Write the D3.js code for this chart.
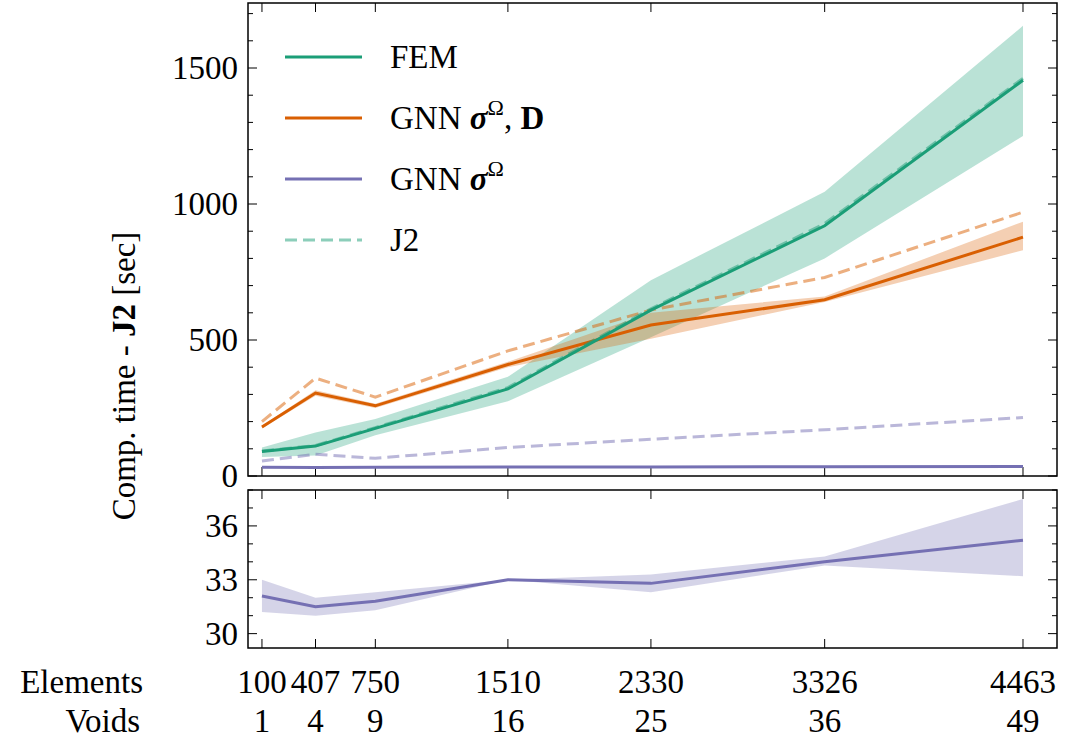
<!DOCTYPE html>
<html><head><meta charset="utf-8">
<script src="https://cdn.jsdelivr.net/npm/d3@7"></script>
<style>body{margin:0;background:#fff}text{font-family:"Liberation Serif","DejaVu Serif",serif}</style>
</head><body>
<svg id="c" width="1067" height="748"></svg>
<script>
const elements = [100, 407, 750, 1510, 2330, 3326, 4463];
const voids = [1, 4, 9, 16, 25, 36, 49];
const femMean = [90, 110, 175, 320, 610, 920, 1455];
const femLo = [70, 75, 150, 275, 510, 800, 1250];
const femHi = [105, 160, 210, 365, 720, 1045, 1655];
const femJ2 = [92, 112, 178, 325, 615, 928, 1462];
const gnnDMean = [180, 305, 258, 410, 555, 648, 878];
const gnnDLo = [175, 295, 250, 400, 505, 640, 830];
const gnnDHi = [185, 315, 266, 420, 600, 660, 935];
const gnnDJ2 = [200, 360, 290, 460, 610, 730, 970];
const gnnSMean = [32.1, 31.5, 31.8, 33.0, 32.8, 34.0, 35.2];
const gnnSLo = [31.2, 31.0, 31.3, 33.0, 32.3, 33.8, 33.2];
const gnnSHi = [33.0, 32.0, 32.3, 33.0, 33.3, 34.3, 37.5];
const gnnSJ2 = [55, 80, 65, 105, 135, 170, 215];
const topTicks = [0, 500, 1000, 1500];
const botTicks = [30, 33, 36];

const G = "#1b9e77", O = "#d95f02", P = "#7570b3";
const FS = 33;
const svg = d3.select("#c");
const L = 248, R = 1057;
const x = d3.scaleLinear().domain([20, 4658]).range([L, R]);
const yT = d3.scaleLinear().domain([0, 1739]).range([476, 3]);
const yB = d3.scaleLinear().domain([29.2, 38]).range([648, 490]);

function panel(y, ticks, minor) {
  const g = svg.append("g");
  const [b, t] = y.range();
  g.append("rect").attr("x", L).attr("y", t).attr("width", R - L).attr("height", b - t)
    .attr("fill", "none").attr("stroke", "#000").attr("stroke-width", 1.5);
  y.ticks(40).filter(v => Math.abs(v / minor - Math.round(v / minor)) < 1e-6 && v >= y.domain()[0]).forEach(v => {
    const major = ticks.includes(v);
    const len = major ? 9 : 5;
    g.append("line").attr("x1", L).attr("x2", L + len).attr("y1", y(v)).attr("y2", y(v)).attr("stroke", "#000");
    g.append("line").attr("x1", R).attr("x2", R - len).attr("y1", y(v)).attr("y2", y(v)).attr("stroke", "#000");
  });
  ticks.forEach(v => g.append("text").attr("x", L - 10).attr("y", y(v) + 11).attr("text-anchor", "end")
    .attr("font-size", FS).text(v));
  elements.forEach(e => {
    g.append("line").attr("x1", x(e)).attr("x2", x(e)).attr("y1", b).attr("y2", b - 9).attr("stroke", "#000");
    g.append("line").attr("x1", x(e)).attr("x2", x(e)).attr("y1", t).attr("y2", t + 9).attr("stroke", "#000");
  });
}
panel(yT, topTicks, 100);
panel(yB, botTicks, 1);

function band(y, lo, hi, c) {
  svg.append("path").attr("fill", c).attr("opacity", 0.3)
    .attr("d", d3.area().x((d, i) => x(elements[i])).y0((d, i) => y(lo[i])).y1((d, i) => y(hi[i]))(elements));
}
function line(y, v, c, dash, op) {
  svg.append("path").attr("fill", "none").attr("stroke", c).attr("stroke-width", 3)
    .attr("opacity", op || 1).attr("stroke-dasharray", dash || null)
    .attr("d", d3.line().x((d, i) => x(elements[i])).y(d => y(d))(v));
}
band(yT, femLo, femHi, G);
band(yT, gnnDLo, gnnDHi, O);
line(yT, gnnSJ2, P, "12,6", 0.5);
line(yT, gnnDJ2, O, "12,6", 0.5);
line(yT, gnnSMean, P);
line(yT, gnnDMean, O);
line(yT, femMean, G);
line(yT, femJ2, G, "12,6", 0.5);
band(yB, gnnSLo, gnnSHi, P);
line(yB, gnnSMean, P);

const leg = [["FEM", G, null, 1], ["GNN", O, null, 1, true], ["GNN", P, null, 1, false], ["J2", G, "12,6", 0.5]];
leg.forEach((d, i) => {
  const yy = 57 + i * 61;
  svg.append("line").attr("x1", 285).attr("x2", 362).attr("y1", yy).attr("y2", yy)
    .attr("stroke", d[1]).attr("stroke-width", 3).attr("opacity", d[3]).attr("stroke-dasharray", d[2]);
  const t = svg.append("text").attr("x", 390).attr("y", yy + 11).attr("font-size", FS).text(d[0]);
  if (d[4] !== undefined) {
    t.append("tspan").text(" σ").attr("font-weight", "bold").attr("font-style", "italic");
    t.append("tspan").text("Ω").attr("font-size", 22).attr("dy", -14);
    if (d[4]) { t.append("tspan").text(", ").attr("dy", 14); t.append("tspan").text("D").attr("font-weight", "bold"); }
  }
});

elements.forEach((e, i) => {
  svg.append("text").attr("x", x(e)).attr("y", 693).attr("text-anchor", "middle").attr("font-size", FS).text(e);
  svg.append("text").attr("x", x(e)).attr("y", 732).attr("text-anchor", "middle").attr("font-size", FS).text(voids[i]);
});
svg.append("text").attr("x", 143).attr("y", 693).attr("text-anchor", "end").attr("font-size", FS).text("Elements");
svg.append("text").attr("x", 140).attr("y", 732).attr("text-anchor", "end").attr("font-size", FS).text("Voids");

const yl = svg.append("text").attr("transform", "translate(135,376) rotate(-90)").attr("text-anchor", "middle").attr("font-size", FS);
yl.append("tspan").text("Comp.  time - ");
yl.append("tspan").text("J2").attr("font-weight", "bold");
yl.append("tspan").text(" [sec]");
</script>
</body></html>
